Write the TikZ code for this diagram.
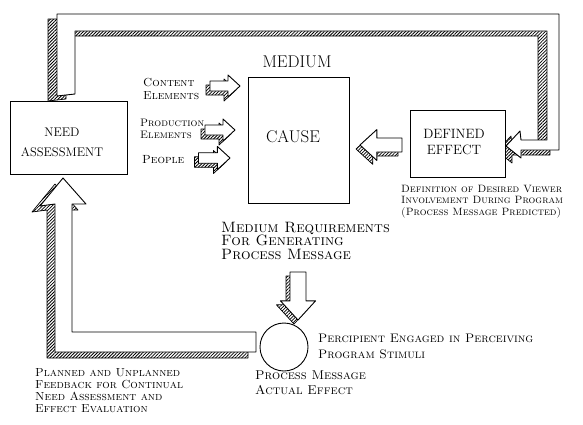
\documentclass[tikz,border=0pt]{standalone}
\usepackage{fontspec}
\usetikzlibrary{patterns.meta}
\newcommand\blockarr[3]{% #1 tip, #2 rotation, #3 scale
  \begin{scope}[shift={(#1)},shift={(-4,4)}]
    \path[hatch,rotate=#2,scale=#3] (0,0) -- (-12,-11) -- (-12,-5) -- (-30,-5) -- (-30,5) -- (-12,5) -- (-12,11) -- cycle;
  \end{scope}
  \begin{scope}[shift={(#1)}]
    \path[face,rotate=#2,scale=#3] (0,0) -- (-12,-11) -- (-12,-5) -- (-30,-5) -- (-30,5) -- (-12,5) -- (-12,11) -- cycle;
  \end{scope}}
\begin{document}
\begin{tikzpicture}[x=1pt,y=-1pt,
  hatch/.style={pattern={Lines[angle=45,distance=2.3pt,line width=0.8pt]},draw=black,line width=0.7pt,line join=round},
  face/.style={fill=white,draw=black,line width=0.9pt,line join=round},
  box/.style={draw=black,line width=0.9pt,fill=white,inner sep=0pt},
  boxtxt/.style={inner sep=0pt,align=center},
  lab/.style={align=left,anchor=north west,inner sep=0pt},
]
\useasboundingbox (0,0) rectangle (583,424);

% ---- top feedback band (Need Assessment -> Defined Effect)
\begin{scope}[shift={(-9,5)}]
\path[hatch] (57,96) -- (57,14) -- (559,14) -- (559,150) -- (521,150) -- (521,158) -- (506,146) -- (520,131) -- (521,140) -- (547,140) -- (547,31) -- (75,31) -- (75,94) -- cycle;
\end{scope}
\path[face] (57,96) -- (57,14) -- (559,14) -- (559,150) -- (521,150) -- (521,158) -- (506,146) -- (520,131) -- (521,140) -- (547,140) -- (547,31) -- (75,31) -- (75,94) -- cycle;

% ---- bottom feedback band (Process message -> Need Assessment)
\begin{scope}[shift={(-8,6)}]
\path[hatch] (63,178) -- (86,204) -- (72,204) -- (72,332) -- (256,332) -- (256,352) -- (55,352) -- (55,204) -- (40,206) -- cycle;
\end{scope}
\path[face] (63,178) -- (86,204) -- (72,204) -- (72,332) -- (256,332) -- (256,352) -- (55,352) -- (55,204) -- (40,206) -- cycle;

% ---- boxes
\node[box,minimum width=117pt,minimum height=73pt] (need) at (68.5,137.5) {};
\node[box,minimum width=101pt,minimum height=126pt] (cause) at (298.5,140) {};
\node[box,minimum width=95pt,minimum height=67pt] (effect) at (457.5,143.5) {};
\node[draw=black,line width=0.9pt,circle,minimum size=48pt,inner sep=0pt] (proc) at (284,347) {};

\node[boxtxt,font=\fontsize{12.5}{20}\selectfont] (needtxt) at (62,142) {NEED\\ASSESSMENT};
\node[boxtxt,font=\fontsize{17}{20}\selectfont] (causetxt) at (293,137) {CAUSE};
\node[boxtxt,font=\fontsize{13.5}{16}\selectfont] (efftxt) at (454,142) {DEFINED\\EFFECT};

% ---- labels
\node[inner sep=0pt,font=\fontsize{17}{19}\selectfont] (medium) at (297,62) {MEDIUM};
\node[lab,font=\fontsize{11.7}{13}\selectfont\scshape] (content) at (143,78) {Content\\Elements};
\node[lab,font=\fontsize{10.8}{11.5}\selectfont\scshape] (prod) at (140,119) {Production\\Elements};
\node[lab,font=\fontsize{11.8}{13}\selectfont\scshape] (people) at (142,155) {People};
\node[lab,font=\fontsize{10.6}{11.5}\selectfont\scshape] (defn) at (401,185) {Definition of Desired Viewer\\Involvement During Program\\(Process Message Predicted)};
\node[lab,font=\fontsize{15}{13.5}\selectfont\scshape] (medreq) at (221,222) {Medium Requirements\\For Generating\\Process Message};
\node[lab,font=\fontsize{12.4}{16}\selectfont\scshape] (percip) at (318,334) {Percipient Engaged in Perceiving\\Program Stimuli};
\node[lab,font=\fontsize{12.8}{15}\selectfont\scshape] (actual) at (255,371) {Process Message\\Actual Effect};
\node[lab,font=\fontsize{11.7}{12}\selectfont\scshape] (planned) at (35,368) {Planned and Unplanned\\Feedback for Continual\\Need Assessment and\\Effect Evaluation};

% ---- small block arrows
\coordinate (tC) at (240,86);
\coordinate (tP) at (235,130);
\coordinate (tQ) at (230,158);
\coordinate (tE) at (360,145);
\coordinate (tD) at (298,320);
\blockarr{tC}{0}{1.0}
\blockarr{tP}{0}{1.0}
\blockarr{tQ}{0}{1.05}
\blockarr{tE}{180}{1.4}
\blockarr{tD}{-90}{1.6}
\end{tikzpicture}
\end{document}
